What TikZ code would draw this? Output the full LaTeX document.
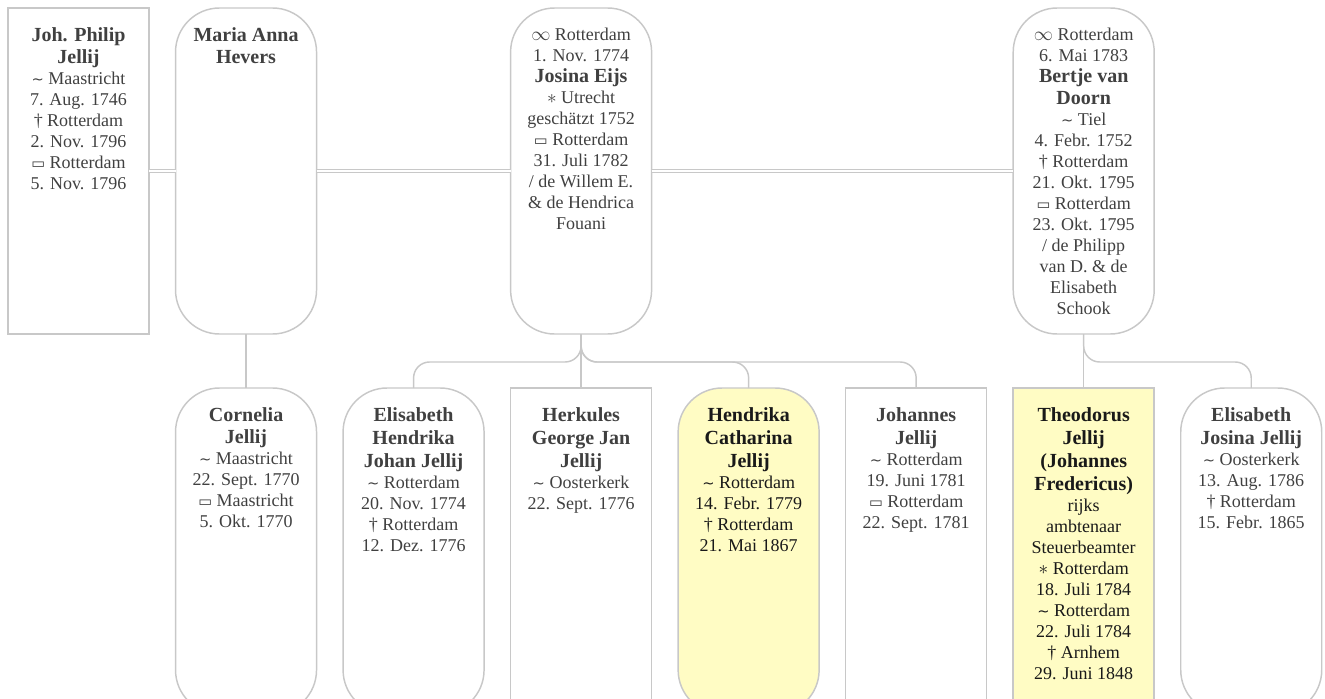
\documentclass[tikz,border=0pt]{standalone}
\usepackage{fontspec}
\setmainfont{Liberation Serif}
\newfontfamily\symfont{DejaVu Sans}
\usetikzlibrary{positioning}
\definecolor{linegray}{RGB}{200,200,200}
\definecolor{txtgray}{RGB}{64,64,64}
\definecolor{keyyellow}{RGB}{255,252,196}
\newcommand{\pname}[1]{{\fontsize{15}{17}\selectfont\bfseries #1}}
\newcommand{\bapt}{{\symfont\fontsize{11}{11}\selectfont ∼}}
\newcommand{\born}{$\ast$}
\newcommand{\died}{\textdagger}
\newcommand{\buried}{{\symfont\fontsize{11}{11}\selectfont ▭}}
\newcommand{\married}{$\infty$}
\tikzset{
  person/.style={draw=linegray, line width=1.1pt, outer sep=0pt, minimum width=105.75pt, inner xsep=2pt, inner ysep=0pt, text height=14.75pt, text depth=229.75pt, font=\fontsize{13.5}{15.75}\selectfont, text=txtgray,
    execute at begin node={\begin{minipage}[t]{101pt}\centering}, execute at end node={\end{minipage}}},
  sqbox/.style={person},
  rndbox/.style={person, rounded corners=33pt},
  keybox/.style={fill=keyyellow, text=black!90},
  marriage/.style={draw=linegray, double, double distance=2pt, line width=0.8pt},
  descent/.style={draw=linegray, line width=1.1pt, rounded corners=12pt},
}

\begin{document}
\begin{tikzpicture}[node distance=40.5pt and 19.9pt]
  \useasboundingbox (-6pt,6pt) rectangle (987.75pt,-518.25pt);

  % Top row: father and his wives
  \node[sqbox, anchor=north west] (joh) at (0,0) {
    \pname{Joh. Philip}\\[1pt]\pname{Jellij}\\
    \bapt{} Maastricht\\ 7. Aug. 1746\\ \died{} Rotterdam\\ 2. Nov. 1796\\
    \buried{} Rotterdam\\ 5. Nov. 1796
  };
  \node[rndbox, right=of joh] (maria) {
    \pname{Maria Anna}\\[1pt]\pname{Hevers}
  };

  % Bottom row: children
  \node[rndbox, below=of maria] (cornelia) {
    \pname{Cornelia}\\[1pt]\pname{Jellij}\\
    \bapt{} Maastricht\\ 22. Sept. 1770\\ \buried{} Maastricht\\ 5. Okt. 1770
  };
  \node[rndbox, right=of cornelia] (ehj) {
    \pname{Elisabeth}\\[1.5pt]\pname{Hendrika}\\[1.5pt]\pname{Johan Jellij}\\
    \bapt{} Rotterdam\\ 20. Nov. 1774\\ \died{} Rotterdam\\ 12. Dez. 1776
  };
  \node[sqbox, right=of ehj] (herkules) {
    \pname{Herkules}\\[1.5pt]\pname{George Jan}\\[1.5pt]\pname{Jellij}\\
    \bapt{} Oosterkerk\\ 22. Sept. 1776
  };
  \node[rndbox, keybox, right=of herkules] (hcj) {
    \pname{Hendrika}\\[1.5pt]\pname{Catharina}\\[1.5pt]\pname{Jellij}\\
    \bapt{} Rotterdam\\ 14. Febr. 1779\\ \died{} Rotterdam\\ 21. Mai 1867
  };
  \node[sqbox, right=of hcj] (johannes) {
    \pname{Johannes}\\[1.5pt]\pname{Jellij}\\
    \bapt{} Rotterdam\\ 19. Juni 1781\\ \buried{} Rotterdam\\ 22. Sept. 1781
  };
  \node[sqbox, keybox, right=of johannes] (theo) {
    \pname{Theodorus}\\[1.5pt]\pname{Jellij}\\[1.5pt]\pname{(Johannes}\\[1.5pt]\pname{Fredericus)}\\
    rijks\\ ambtenaar\\ Steuerbeamter\\ \born{} Rotterdam\\ 18. Juli 1784\\
    \bapt{} Rotterdam\\ 22. Juli 1784\\ \died{} Arnhem\\ 29. Juni 1848
  };
  \node[rndbox, right=of theo] (ejj) {
    \pname{Elisabeth}\\[1.5pt]\pname{Josina Jellij}\\
    \bapt{} Oosterkerk\\ 13. Aug. 1786\\ \died{} Rotterdam\\ 15. Febr. 1865
  };

  % Later wives, above their children
  \node[rndbox, above=of herkules] (josina) {
    \married{} Rotterdam\\ 1. Nov. 1774\\ \pname{Josina Eijs}\\
    \born{} Utrecht\\ geschätzt 1752\\ \buried{} Rotterdam\\ 31. Juli 1782\\
    / de Willem E.\\ \& de Hendrica\\ Fouani
  };
  \node[rndbox, above=of theo] (bertje) {
    \married{} Rotterdam\\ 6. Mai 1783\\ \pname{Bertje van}\\[1pt]\pname{Doorn}\\
    \bapt{} Tiel\\ 4. Febr. 1752\\ \died{} Rotterdam\\ 21. Okt. 1795\\
    \buried{} Rotterdam\\ 23. Okt. 1795\\ / de Philipp\\ van D. \& de\\
    Elisabeth\\ Schook
  };

  % Marriages
  \draw[marriage] (joh.east) -- (maria.west);
  \draw[marriage] (maria.east) -- (josina.west);
  \draw[marriage] (josina.east) -- (bertje.west);

  % Descent lines
  \draw[descent] (maria.south) -- (cornelia.north);
  \draw[descent] (josina.south) -- (herkules.north);
  \draw[descent] (josina.south) -- ++(0,-21pt) -| (ehj.north);
  \draw[descent] (josina.south) -- ++(0,-21pt) -| (hcj.north);
  \draw[descent] (josina.south) -- ++(0,-21pt) -| (johannes.north);
  \draw[descent] (bertje.south) -- (theo.north);
  \draw[descent] (bertje.south) -- ++(0,-21pt) -| (ejj.north);

\end{tikzpicture}
\end{document}
